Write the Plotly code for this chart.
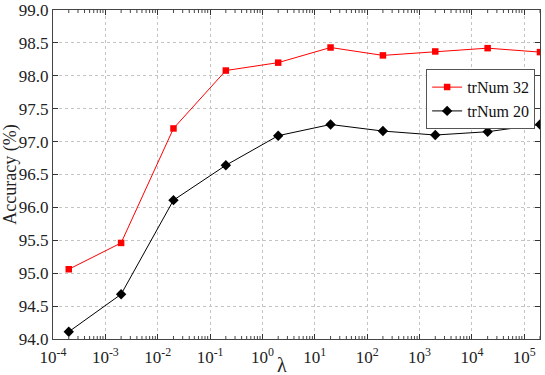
import plotly.graph_objects as go

lambdas = [2e-4, 2e-3, 2e-2, 2e-1, 2e0, 2e1, 2e2, 2e3, 2e4, 2e5]
acc_tr32 = [95.06, 95.46, 97.20, 98.08, 98.20, 98.43, 98.31, 98.37, 98.42, 98.36]
acc_tr20 = [94.11, 94.68, 96.11, 96.64, 97.09, 97.26, 97.16, 97.10, 97.15, 97.26]
series_names = ["trNum 32", "trNum 20"]
x_tickvals = [1e-4, 1e-3, 1e-2, 1e-1, 1e0, 1e1, 1e2, 1e3, 1e4, 1e5]
x_ticktext = ["10<sup>-4</sup>", "10<sup>-3</sup>", "10<sup>-2</sup>", "10<sup>-1</sup>",
              "10<sup>0</sup>", "10<sup>1</sup>", "10<sup>2</sup>", "10<sup>3</sup>",
              "10<sup>4</sup>", "10<sup>5</sup>"]
x_minor_vals = [m * d for d in x_tickvals for m in range(2, 10)]
y_tickvals = [94.0, 94.5, 95.0, 95.5, 96.0, 96.5, 97.0, 97.5, 98.0, 98.5, 99.0]
y_ticktext = [f"{v:.1f}" for v in y_tickvals]

FONT = "Liberation Serif"
XRANGE = [-4, 5.30103]
PLOT_H = 375 - 10 - 36

fig = go.Figure()
fig.add_trace(go.Scatter(
    x=lambdas, y=acc_tr32, name=series_names[0], mode="lines+markers",
    line=dict(color="#ff0000", width=1),
    marker=dict(symbol="square", size=6.5, color="#ff0000"),
))
fig.add_trace(go.Scatter(
    x=lambdas, y=acc_tr20, name=series_names[1], mode="lines+markers",
    line=dict(color="#000000", width=1),
    marker=dict(symbol="diamond", size=8, color="#000000"),
))

# minor log ticks (axis decoration) on bottom and top edges
minor_len = 3.0 / PLOT_H
for v in x_minor_vals:
    if v > 10 ** XRANGE[1]:
        continue
    fig.add_shape(type="line", xref="x", yref="paper", x0=v, x1=v, y0=0, y1=minor_len,
                  line=dict(color="#444", width=1), layer="above")
    fig.add_shape(type="line", xref="x", yref="paper", x0=v, x1=v, y0=1 - minor_len, y1=1,
                  line=dict(color="#444", width=1), layer="above")

fig.update_layout(
    width=545, height=375,
    margin=dict(l=53, r=5, t=10, b=36, autoexpand=False),
    paper_bgcolor="white", plot_bgcolor="white",
    font=dict(family=FONT, size=17, color="#222"),
    showlegend=True,
    legend=dict(
        x=0.99, y=0.82, xanchor="right", yanchor="top",
        bgcolor="white", bordercolor="#555", borderwidth=1,
        font=dict(family=FONT, size=16, color="#111"),
        tracegroupgap=0, itemwidth=30,
    ),
    xaxis=dict(
        type="log", range=XRANGE, automargin=False,
        tickvals=x_tickvals, ticktext=x_ticktext,
        ticks="inside", ticklen=5, tickcolor="#333", ticklabelstandoff=3,
        showline=True, linecolor="#444", linewidth=1, mirror="allticks",
        showgrid=True, gridcolor="#c4c4c4", griddash="dot", gridwidth=1,
        zeroline=False,
    ),
    yaxis=dict(
        range=[94.0, 99.0], automargin=False,
        tickvals=y_tickvals, ticktext=y_ticktext,
        ticks="inside", ticklen=5, tickcolor="#333",
        showline=True, linecolor="#444", linewidth=1, mirror="allticks",
        showgrid=True, gridcolor="#c4c4c4", griddash="dot", gridwidth=1,
        title=dict(text="Accuracy (%)", font=dict(family=FONT, size=18), standoff=3),
        zeroline=False,
    ),
)

fig.add_annotation(text="λ", xref="paper", yref="paper", x=0.47, y=0,
                   xanchor="center", yanchor="top", yshift=-13, showarrow=False,
                   font=dict(family=FONT, size=20, color="#222"))

fig.write_html("out.html", config={"displayModeBar": False},
               post_script="document.body.style.margin='0px';document.body.style.overflow='hidden';")
